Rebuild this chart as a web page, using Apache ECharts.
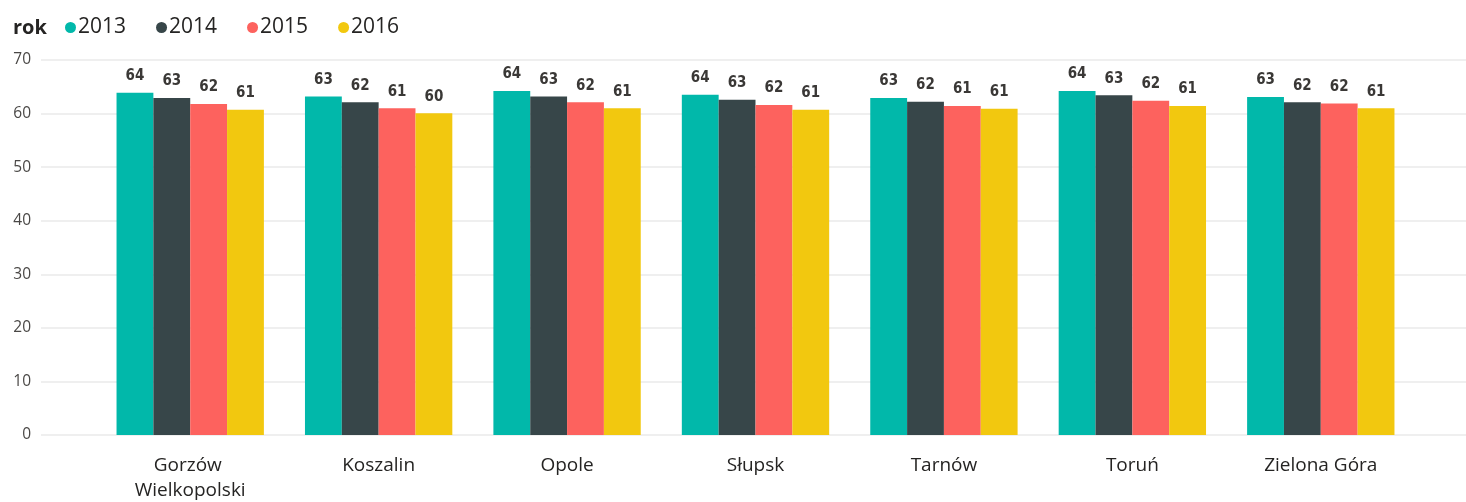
<!DOCTYPE html>
<html><head><meta charset="utf-8">
<script src="https://cdn.jsdelivr.net/npm/echarts@6/dist/echarts.min.js"></script>
<style>html,body{margin:0;padding:0;background:#fff}#c{width:1466px;height:502px}</style>
</head><body><div id="c"></div>
<script>
const categories = ["Gorzów Wielkopolski","Koszalin","Opole","Słupsk","Tarnów","Toruń","Zielona Góra"];
const seriesNames = ["2013","2014","2015","2016"];
const v2013 = [63.9, 63.2, 64.2, 63.5, 62.9, 64.2, 63.1];
const v2014 = [62.9, 62.1, 63.2, 62.6, 62.2, 63.4, 62.1];
const v2015 = [61.8, 61.0, 62.1, 61.6, 61.4, 62.4, 61.9];
const v2016 = [60.7, 60.05, 61.0, 60.7, 60.9, 61.4, 61.0];
const yTicks = [0,10,20,30,40,50,60,70];
const colors = ["#01B8AA","#374649","#FD625E","#F2C80F"];

const allValues = [v2013, v2014, v2015, v2016];
const chart = echarts.init(document.getElementById('c'));
const font = '"Open Sans", "Noto Sans", sans-serif';
chart.setOption({
  animation:false,
  color: colors,
  title:{text:'rok', left:8, top:13, textStyle:{fontFamily:font, fontSize:20, fontWeight:'bold', color:'#252423'}},
  legend:{
    left:60, top:12, icon:'circle', itemWidth:11, itemHeight:11, itemGap:30,
    textStyle:{fontFamily:font, fontSize:21, color:'#252423', padding:[0,0,0,-3]},
    data: seriesNames
  },
  grid:[
    {left:41, right:0, top:60, bottom:67, outerBoundsMode:'none', containLabel:false},
    {left:96, right:51, top:60, bottom:67, outerBoundsMode:'none', containLabel:false}
  ],
  xAxis:[
    {gridIndex:0, type:'value', show:false, min:0, max:1},
    {gridIndex:1, type:'category', data:categories,
     axisLine:{show:false}, axisTick:{show:false},
     axisLabel:{fontFamily:font, fontSize:19, color:'#252423', margin:18, lineHeight:25,
       width:170, overflow:'break', interval:0}}
  ],
  yAxis:[
    {gridIndex:0, type:'value', min:0, max:70, interval:10,
     axisLine:{show:false}, axisTick:{show:false},
     splitLine:{lineStyle:{color:'#EAEAEA', width:1.5}},
     axisLabel:{fontFamily:font, fontSize:15.5, color:'#4A4846', margin:10,
       formatter: v => yTicks.includes(v) ? String(v) : ''}},
    {gridIndex:1, type:'value', min:0, max:70, interval:10, show:false, splitLine:{show:false}}
  ],
  series: seriesNames.map((n,i)=>({
    name:n, type:'bar', xAxisIndex:1, yAxisIndex:1, data: allValues[i],
    barGap:'0%', barCategoryGap:'21.8%',
    label:{show:true, position:'top', distance:9, fontFamily:'"DejaVu Sans Condensed","DejaVu Sans",sans-serif',
      fontSize:15, fontWeight:'bold', color:'#3A3836', formatter: p => Math.round(p.value)}
  }))
});
</script></body></html>
